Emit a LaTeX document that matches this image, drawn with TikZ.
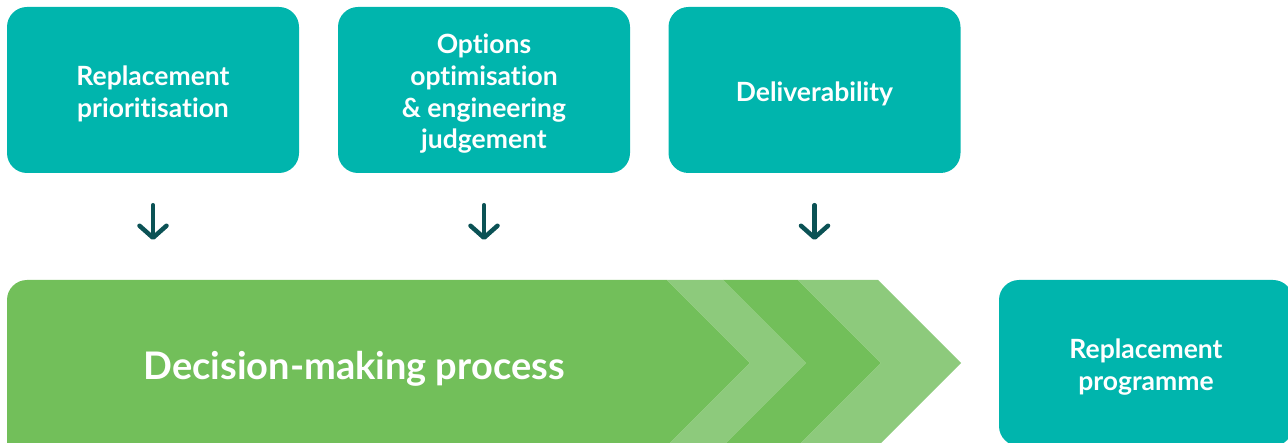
\documentclass[tikz,border=0pt]{standalone}
\usepackage{fontspec}
\setmainfont{Lato}[Ligatures={NoCommon}]
\usetikzlibrary{arrows.meta}
\definecolor{teal}{HTML}{00B5AD}
\definecolor{dgreen}{HTML}{72BF5A}
\definecolor{lgreen}{HTML}{8DCA7C}
\definecolor{arrcol}{HTML}{0B5255}
\tikzset{
  box/.style={fill=teal, rounded corners=20pt, minimum width=292pt, minimum height=166pt, inner sep=0pt},
  lbl/.style={align=center, text=white, font=\fontsize{26.5}{31.7}\selectfont\bfseries, inner sep=0pt},
  arr/.style={draw=arrcol, line width=4.5pt, line cap=round,
    -{Straight Barb[length=12pt,width=27pt,line cap=round,line join=round]}},
}
\begin{document}
\begin{tikzpicture}[x=1pt,y=-1pt]
\useasboundingbox (0,0) rectangle (1288,443);
\node[box] (b1) at (153,90) {};
\node[lbl] (l1) at ([shift={(0,4)}]b1.center) {Replacement\\prioritisation};
\node[box] (b2) at (484,90) {};
\node[lbl] (l2) at ([shift={(0,4)}]b2.center) {Options\\optimisation\\\& engineering\\judgement};
\node[box] (b3) at (814.5,90) {};
\node[lbl] (l3) at ([shift={(0,4)}]b3.center) {Deliverability};
\node[box, minimum width=294pt] (out) at (1146,363) {};
\node[lbl] (l4) at ([shift={(0,4)}]out.center) {Replacement\\programme};
% process arrow
\fill[dgreen, rounded corners=20pt] (7,446) -- (7,280) -- (600,280) [sharp corners] -- (667,280) -- (750,363) -- (667,446) -- cycle;
\fill[lgreen] (667,280) -- (723,280) -- (806,363) -- (723,446) -- (667,446) -- (750,363) -- cycle;
\fill[dgreen] (723,280) -- (798,280) -- (881,363) -- (798,446) -- (723,446) -- (806,363) -- cycle;
\fill[lgreen] (798,280) -- (878,280) -- (961,363) -- (878,446) -- (798,446) -- (881,363) -- cycle;
\node[text=white, font=\fontsize{38}{42}\selectfont\bfseries] (proc) at (354,369) {Decision-making process};
\coordinate (t) at (0,280);
\draw[arr, shorten <=32pt, shorten >=40pt] (b1.south) -- (b1.south |- t);
\draw[arr, shorten <=32pt, shorten >=40pt] (b2.south) -- (b2.south |- t);
\draw[arr, shorten <=32pt, shorten >=40pt] (b3.south) -- (b3.south |- t);
\end{tikzpicture}
\end{document}
